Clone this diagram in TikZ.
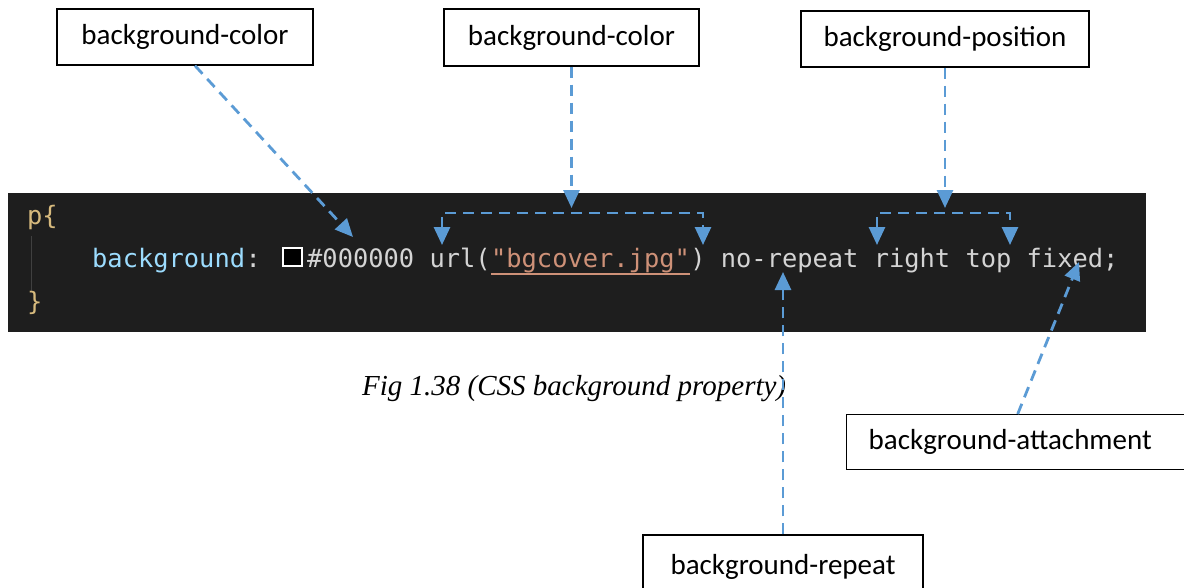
\documentclass[tikz,border=0pt]{standalone}
\usepackage{fontspec}
\setmainfont{Carlito}
\newfontfamily\codefont{DejaVu Sans Mono}
\newfontfamily\capfont{Liberation Serif}
\usetikzlibrary{arrows.meta}

\definecolor{callout}{HTML}{5B9BD5}
\definecolor{editorbg}{HTML}{1E1E1E}
\definecolor{selcol}{HTML}{D7BA7D}
\definecolor{propcol}{HTML}{9CDCFE}
\definecolor{plaincol}{HTML}{D4D4D4}
\definecolor{strcol}{HTML}{CE9178}
\definecolor{guidecol}{HTML}{404040}

\tikzset{
  labelbox/.style={draw=black, line width=1.4pt, fill=white, inner sep=0pt,
    font=\fontsize{29}{34}\selectfont},
  calltip/.style={-{Triangle[length=18pt,width=16pt]}},
  callarrow/.style={draw=callout, line width=2.8pt, dash pattern=on 11pt off 7pt, calltip},
  bracketarrow/.style={draw=callout, line width=2.8pt, dash pattern=on 11pt off 7pt,
    {Triangle[length=18pt,width=16pt]}-{Triangle[length=18pt,width=16pt]}},
  code/.style={font=\codefont\fontsize{25.4}{30}\selectfont, inner sep=0pt, anchor=base west},
}

\begin{document}
\begin{tikzpicture}[x=1pt,y=-1pt]
\useasboundingbox (0,0) rectangle (1184,587);
\clip (0,0) rectangle (1184,587);

% editor strip
\fill[editorbg] (8,193) rectangle (1146,332);
\draw[guidecol, line width=1pt] (31,236) -- (31,292);

% code lines
\node[code, text=selcol] (l1) at (27,224) {p\{};
\node[code, text=propcol] (prop) at (92,267) {background};
\node[code, text=plaincol] (colon) at (prop.base east) {:};
\draw[white, line width=1.5pt, fill=black] (283,248) rectangle (302,266);
\node[code, text=plaincol] (v1) at (307,267) {\#000000 url(};
\node[code, text=strcol] (v2) at (v1.base east) {"bgcover.jpg"};
\node[code, text=plaincol] (v3) at (v2.base east) {) no-repeat right top fixed;};
\draw[strcol, line width=1.3pt] ([yshift=-7pt]v2.base west) -- ([yshift=-7pt]v2.base east);
\node[code, text=selcol] (l3) at (27,310) {\}};

% caption
\node[anchor=base west, inner sep=0pt, font=\capfont\itshape\fontsize{29}{34}\selectfont]
  (cap) at (362,395) {Fig 1.38 (CSS background property)};

% label boxes
\node[labelbox, minimum width=256pt, minimum height=56pt] (b1) at (185,37) {background-color};
\node[labelbox, minimum width=255pt, minimum height=57pt] (b2) at (571.5,37.5) {background-color};
\node[labelbox, minimum width=288pt, minimum height=56pt] (b3) at (945,39) {background-position};
\node[labelbox, anchor=north west, text width=332pt, align=left, inner xsep=22pt,
  minimum height=55pt] (b4) at (846,414) {background-attachment};
\node[labelbox, minimum width=280pt, minimum height=64pt] (b5) at (783,567) {background-repeat};

% arrow ends and bracket corners
\coordinate (t1) at (353,237);
\coordinate (j2) at (571.5,208);
\coordinate (uL) at (442,245);
\coordinate (uLc) at (442,213);
\coordinate (uRc) at (703,213);
\coordinate (uR) at (703,245);
\coordinate (j3) at (945,208);
\coordinate (pL) at (877,245);
\coordinate (pLc) at (877,213);
\coordinate (pRc) at (1010,213);
\coordinate (pR) at (1010,245);
\coordinate (t5) at (783,272);
\coordinate (t4) at (1079,262);

% callouts
\draw[callarrow] ([xshift=10pt]b1.south) -- (t1);
\draw[callarrow] (b2.south) -- (j2);
\draw[bracketarrow] (uL) -- (uLc) -- (uRc) -- (uR);
\draw[callarrow] (b3.south) -- (j3);
\draw[bracketarrow] (pL) -- (pLc) -- (pRc) -- (pR);
\draw[callarrow] (b5.north) -- (t5);
\draw[callarrow] ([xshift=-17pt]b4.north) -- (t4);
\end{tikzpicture}
\end{document}
